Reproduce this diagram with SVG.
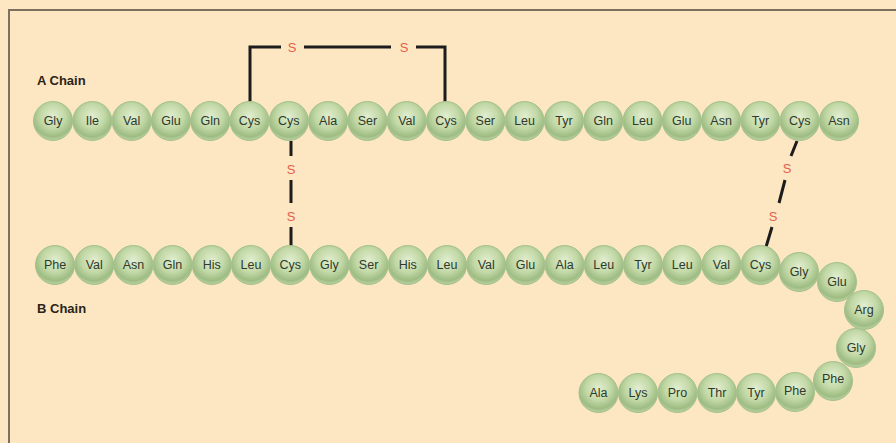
<svg xmlns="http://www.w3.org/2000/svg" width="896" height="443" viewBox="0 0 896 443">
<defs>
<radialGradient id="bead" cx="50%" cy="38%" r="58%">
<stop offset="0" stop-color="#e2eed0"/>
<stop offset="0.55" stop-color="#c2d8a6"/>
<stop offset="0.9" stop-color="#9dbc82"/>
<stop offset="1" stop-color="#b2cb98"/>
</radialGradient>
</defs>
<style>
.bg{fill:#fde7c2}
.frame{stroke:#7d705f;stroke-width:2;fill:none}
.bead circle{fill:url(#bead);stroke:#a5c18e;stroke-width:1}
.bead text{font-family:"Liberation Sans",Arial,sans-serif;font-size:12.5px;fill:#2e3a2e;text-anchor:middle;dominant-baseline:central}
.title{font-family:"Liberation Sans",Arial,sans-serif;font-size:13px;font-weight:bold;fill:#2b2418}
.bond{stroke:#1c1c1c;stroke-width:3;fill:none}
.s{font-family:"Liberation Sans",Arial,sans-serif;font-size:13px;fill:#e5604c;text-anchor:middle;dominant-baseline:central}
</style>
<rect class="bg" x="0" y="0" width="896" height="443"/>
<path class="frame" d="M9 443 V10 H896"/>
<text class="title" x="37" y="85">A Chain</text>
<text class="title" x="37" y="313">B Chain</text>
<g id="connectors">
<path class="bond" d="M250 102 V47 H281 M304 47 H391 M416 47 H445 V102"/>
<text class="s" x="292" y="47">S</text>
<text class="s" x="404" y="47">S</text>
<path class="bond" d="M291 141 V156 M291 180 V203 M291 227 V246"/>
<text class="s" x="291" y="169">S</text>
<text class="s" x="291" y="216">S</text>
<path class="bond" d="M797 141 L791 156 M785 180 L779 203 M772 227 L766 247"/>
<text class="s" x="787" y="168">S</text>
<text class="s" x="773" y="216">S</text>
</g>
<g id="a-chain">
<g class="bead" id="a1"><circle cx="53" cy="121" r="19.5"/><text x="53" y="121">Gly</text></g>
<g class="bead" id="a2"><circle cx="92.3" cy="121" r="19.5"/><text x="92.3" y="121">Ile</text></g>
<g class="bead" id="a3"><circle cx="131.6" cy="121" r="19.5"/><text x="131.6" y="121">Val</text></g>
<g class="bead" id="a4"><circle cx="170.9" cy="121" r="19.5"/><text x="170.9" y="121">Glu</text></g>
<g class="bead" id="a5"><circle cx="210.2" cy="121" r="19.5"/><text x="210.2" y="121">Gln</text></g>
<g class="bead" id="a6"><circle cx="249.5" cy="121" r="19.5"/><text x="249.5" y="121">Cys</text></g>
<g class="bead" id="a7"><circle cx="288.8" cy="121" r="19.5"/><text x="288.8" y="121">Cys</text></g>
<g class="bead" id="a8"><circle cx="328.1" cy="121" r="19.5"/><text x="328.1" y="121">Ala</text></g>
<g class="bead" id="a9"><circle cx="367.4" cy="121" r="19.5"/><text x="367.4" y="121">Ser</text></g>
<g class="bead" id="a10"><circle cx="406.7" cy="121" r="19.5"/><text x="406.7" y="121">Val</text></g>
<g class="bead" id="a11"><circle cx="446" cy="121" r="19.5"/><text x="446" y="121">Cys</text></g>
<g class="bead" id="a12"><circle cx="485.3" cy="121" r="19.5"/><text x="485.3" y="121">Ser</text></g>
<g class="bead" id="a13"><circle cx="524.6" cy="121" r="19.5"/><text x="524.6" y="121">Leu</text></g>
<g class="bead" id="a14"><circle cx="563.9" cy="121" r="19.5"/><text x="563.9" y="121">Tyr</text></g>
<g class="bead" id="a15"><circle cx="603.2" cy="121" r="19.5"/><text x="603.2" y="121">Gln</text></g>
<g class="bead" id="a16"><circle cx="642.5" cy="121" r="19.5"/><text x="642.5" y="121">Leu</text></g>
<g class="bead" id="a17"><circle cx="681.8" cy="121" r="19.5"/><text x="681.8" y="121">Glu</text></g>
<g class="bead" id="a18"><circle cx="721.1" cy="121" r="19.5"/><text x="721.1" y="121">Asn</text></g>
<g class="bead" id="a19"><circle cx="760.4" cy="121" r="19.5"/><text x="760.4" y="121">Tyr</text></g>
<g class="bead" id="a20"><circle cx="799.7" cy="121" r="19.5"/><text x="799.7" y="121">Cys</text></g>
<g class="bead" id="a21"><circle cx="839" cy="121" r="19.5"/><text x="839" y="121">Asn</text></g>
</g>
<g id="b-chain">
<g class="bead" id="b1"><circle cx="55" cy="265" r="19.5"/><text x="55" y="265">Phe</text></g>
<g class="bead" id="b2"><circle cx="94.2" cy="265" r="19.5"/><text x="94.2" y="265">Val</text></g>
<g class="bead" id="b3"><circle cx="133.4" cy="265" r="19.5"/><text x="133.4" y="265">Asn</text></g>
<g class="bead" id="b4"><circle cx="172.6" cy="265" r="19.5"/><text x="172.6" y="265">Gln</text></g>
<g class="bead" id="b5"><circle cx="211.8" cy="265" r="19.5"/><text x="211.8" y="265">His</text></g>
<g class="bead" id="b6"><circle cx="251" cy="265" r="19.5"/><text x="251" y="265">Leu</text></g>
<g class="bead" id="b7"><circle cx="290.2" cy="265" r="19.5"/><text x="290.2" y="265">Cys</text></g>
<g class="bead" id="b8"><circle cx="329.4" cy="265" r="19.5"/><text x="329.4" y="265">Gly</text></g>
<g class="bead" id="b9"><circle cx="368.6" cy="265" r="19.5"/><text x="368.6" y="265">Ser</text></g>
<g class="bead" id="b10"><circle cx="407.8" cy="265" r="19.5"/><text x="407.8" y="265">His</text></g>
<g class="bead" id="b11"><circle cx="447" cy="265" r="19.5"/><text x="447" y="265">Leu</text></g>
<g class="bead" id="b12"><circle cx="486.2" cy="265" r="19.5"/><text x="486.2" y="265">Val</text></g>
<g class="bead" id="b13"><circle cx="525.4" cy="265" r="19.5"/><text x="525.4" y="265">Glu</text></g>
<g class="bead" id="b14"><circle cx="564.6" cy="265" r="19.5"/><text x="564.6" y="265">Ala</text></g>
<g class="bead" id="b15"><circle cx="603.8" cy="265" r="19.5"/><text x="603.8" y="265">Leu</text></g>
<g class="bead" id="b16"><circle cx="643" cy="265" r="19.5"/><text x="643" y="265">Tyr</text></g>
<g class="bead" id="b17"><circle cx="682.2" cy="265" r="19.5"/><text x="682.2" y="265">Leu</text></g>
<g class="bead" id="b18"><circle cx="721.4" cy="265" r="19.5"/><text x="721.4" y="265">Val</text></g>
<g class="bead" id="b19"><circle cx="760.6" cy="265" r="19.5"/><text x="760.6" y="265">Cys</text></g>
<g class="bead" id="b20"><circle cx="799" cy="272" r="19.5"/><text x="799" y="272">Gly</text></g>
<g class="bead" id="b21"><circle cx="837" cy="282" r="19.5"/><text x="837" y="282">Glu</text></g>
<g class="bead" id="b22"><circle cx="864" cy="310" r="19.5"/><text x="864" y="310">Arg</text></g>
<g class="bead" id="b23"><circle cx="856" cy="348" r="19.5"/><text x="856" y="348">Gly</text></g>
<g class="bead" id="b24"><circle cx="833" cy="381" r="19.5"/><text x="833" y="379">Phe</text></g>
<g class="bead" id="b25"><circle cx="795" cy="392" r="19.5"/><text x="795" y="391">Phe</text></g>
<g class="bead" id="b26"><circle cx="756" cy="393" r="19.5"/><text x="756" y="393">Tyr</text></g>
<g class="bead" id="b27"><circle cx="717" cy="393" r="19.5"/><text x="717" y="393">Thr</text></g>
<g class="bead" id="b28"><circle cx="677.5" cy="393" r="19.5"/><text x="677.5" y="393">Pro</text></g>
<g class="bead" id="b29"><circle cx="638" cy="393" r="19.5"/><text x="638" y="393">Lys</text></g>
<g class="bead" id="b30"><circle cx="598.5" cy="393" r="19.5"/><text x="598.5" y="393">Ala</text></g>
</g>
</svg>
